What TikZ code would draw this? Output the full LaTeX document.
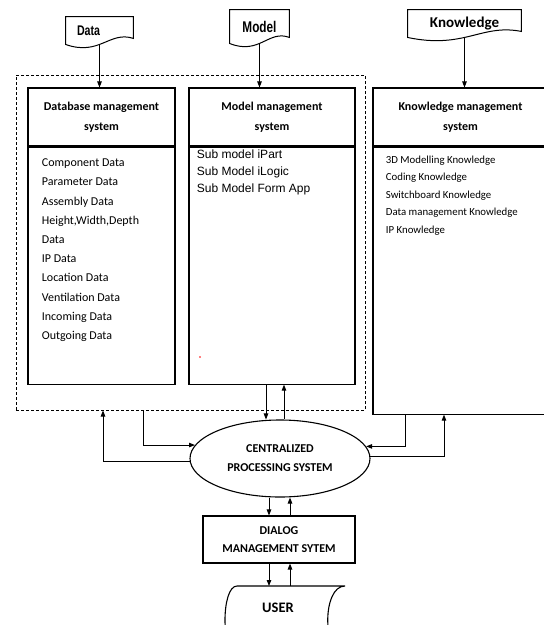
\documentclass[tikz,border=0pt]{standalone}
\usepackage{fontspec}
\setmainfont{Carlito}
\newfontfamily\arialfont{Liberation Sans}
\newfontfamily\narrowfont{Liberation Sans}[FakeStretch=0.76]
\usetikzlibrary{arrows.meta,positioning,calc,shapes.geometric}
\tikzset{
  >={Triangle[length=6pt,width=4.5pt]},
  every picture/.append style={line width=0.9pt},
}

\begin{document}
\begin{tikzpicture}[x=1pt, y=-1pt,
  doc/.style={rectangle, draw=none, inner sep=0pt, align=center},
  docline/.style={draw, line width=1pt},
  head/.style={rectangle, draw, line width=1.1pt, minimum height=58pt,
               inner sep=0pt, align=center,
               font=\fontsize{12}{20}\selectfont\bfseries},
  body/.style={rectangle, draw, line width=1.1pt, inner sep=0pt},
  group/.style={rectangle, draw, line width=1pt, dash pattern=on 3pt off 2pt,
                minimum width=349pt, minimum height=335pt, inner sep=0pt},
  dlist/.style={inner sep=0pt, align=left, font=\fontsize{12}{19.2}\selectfont},
  mlist/.style={inner sep=0pt, align=left, font=\arialfont\fontsize{12}{17}\selectfont},
  klist/.style={inner sep=0pt, align=left, font=\fontsize{10.8}{17.5}\selectfont},
  cpsnode/.style={ellipse, draw, line width=1.1pt, minimum width=180pt,
                  minimum height=77pt, inner sep=0pt, align=center,
                  font=\fontsize{12}{19}\selectfont\bfseries},
  dmsnode/.style={rectangle, draw, line width=1.1pt, minimum width=152pt,
                  minimum height=47pt, inner sep=0pt, align=center,
                  font=\fontsize{12}{18}\selectfont\bfseries}
]
\useasboundingbox (0,0) rectangle (544,625);
\clip (0,0) rectangle (544,625);

% Inputs
\node[doc, minimum width=67pt, minimum height=27pt, text width=45pt, align=left,
      font=\narrowfont\fontsize{14}{16}\selectfont\bfseries] (data) at (99.5,30.5) {Data};
\node[doc, minimum width=59pt, minimum height=33pt,
      font=\narrowfont\fontsize{15.5}{17}\selectfont\bfseries] (model) at (259.5,26.5) {Model};
\node[doc, minimum width=113pt, minimum height=27pt,
      font=\fontsize{15}{17}\selectfont\bfseries] (know) at (464.5,23.5) {Knowledge};
\foreach \n in {data,model,know} {
  \draw[docline] (\n.south west) -- (\n.north west) -- (\n.north east)
    -- ($(\n.south east)+(0,-6)$)
    .. controls ($(\n.south east)!0.35!(\n.south west)+(0,-14)$)
       and ($(\n.south west)!0.5!(\n.south east)+(0,12)$) .. (\n.south west) -- cycle;
}

% Management systems
\node[group] (grp) at (190.5,242.5) {};
\node[head, minimum width=147pt] (dbmshead) at (101.5,117) {Database management\\system};
\node[body, minimum width=147pt, minimum height=237pt, below=0pt of dbmshead] (dbmsbody) {};
\node[head, minimum width=166pt] (mmshead) at (272,117) {Model management\\system};
\node[body, minimum width=166pt, minimum height=237pt, below=0pt of mmshead] (mmsbody) {};
\node[head, minimum width=175pt] (kmshead) at (460.5,117) {Knowledge management\\system};
\node[body, minimum width=175pt, minimum height=267pt, below=0pt of kmshead] (kmsbody) {};

\node[dlist, below right=12pt and 14pt of dbmsbody.north west] (dbmslist)
  {Component Data\\Parameter Data\\Assembly Data\\Height,Width,Depth\\Data\\IP Data\\
   Location Data\\Ventilation Data\\Incoming Data\\Outgoing Data};
\node[mlist, below right=2.5pt and 8pt of mmsbody.north west] (mmslist)
  {Sub model iPart\\Sub Model iLogic\\Sub Model Form App};
\node[klist, below right=8.5pt and 13pt of kmsbody.north west] (kmslist)
  {3D Modelling Knowledge\\Coding Knowledge\\Switchboard Knowledge\\
   Data management Knowledge\\IP Knowledge};
\fill[red] (200,357) circle[radius=0.9pt];

% Processing, dialog and user
\node[cpsnode] (cps) at (280,458.5) {CENTRALIZED\\PROCESSING SYSTEM};
\node[dmsnode] (dms) at (279,539.5) {DIALOG\\MANAGEMENT SYTEM};
\node[inner sep=0pt, font=\fontsize{14.5}{16}\selectfont\bfseries] (user) at (278,608) {USER};
\coordinate (usertop) at (291,586);
\draw[line width=1.1pt] (345,654) -- (237,654) .. controls (221,654) and (221,586) .. (237,586)
  -- (345,586) .. controls (322,586) and (322,654) .. (345,654);

% Flow arrows
\draw[->] (data.south) -- (data.south |- dbmshead.north);
\draw[->] (model.south) -- (model.south |- mmshead.north);
\draw[->] (know.south) -- (know.south |- kmshead.north);

\draw[->] ([xshift=-6pt]mmsbody.south) -- ([xshift=-6pt]mmsbody.south |- cps.north);
\draw[->] ([xshift=12pt]mmsbody.south |- cps.north) -- ([xshift=12pt]mmsbody.south);

\draw[->] ([xshift=-47.5pt]grp.south) |- (cps.171.6);
\draw[->] (cps.182) -| ([xshift=-87.5pt]grp.south);
\draw[->] ([xshift=-55.5pt]kmsbody.south) |- (cps.8.4);
\draw[->] (cps.1) -| ([xshift=-16.5pt]kmsbody.south);

\draw[->] ([xshift=-11pt]cps.south) -- ([xshift=-11pt]cps.south |- dms.north);
\draw[->] ([xshift=10pt]cps.south |- dms.north) -- ([xshift=10pt]cps.south);
\draw[->] ([xshift=-10pt]dms.south) -- ([xshift=-10pt]dms.south |- usertop);
\draw[->] ([xshift=11pt]dms.south |- usertop) -- ([xshift=11pt]dms.south);

\end{tikzpicture}
\end{document}
